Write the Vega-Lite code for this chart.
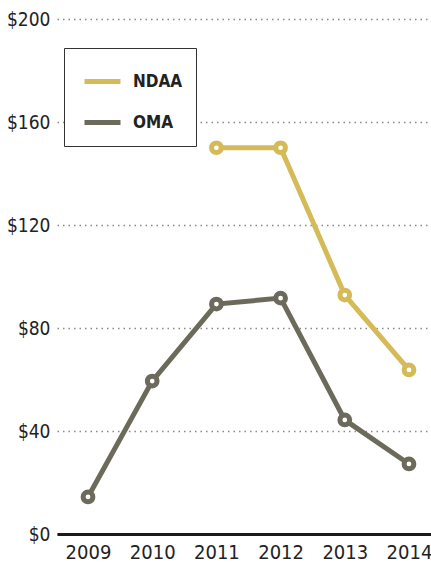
{
  "$schema": "https://vega.github.io/schema/vega-lite/v6.json",
  "width": 374,
  "height": 515,
  "autosize": {"type": "none"},
  "padding": {"left": 57, "top": 19, "right": 0, "bottom": 30},
  "background": "white",
  "config": {
    "view": {"stroke": null},
    "font": "'Liberation Sans Narrow', 'DejaVu Sans Condensed', 'Liberation Sans', sans-serif"
  },
  "data": {
    "values": [
      {"year": 2009, "series": "OMA", "value": 14.4},
      {"year": 2010, "series": "OMA", "value": 59.4},
      {"year": 2011, "series": "OMA", "value": 89.3},
      {"year": 2012, "series": "OMA", "value": 91.6},
      {"year": 2013, "series": "OMA", "value": 44.3},
      {"year": 2014, "series": "OMA", "value": 27.2},
      {"year": 2011, "series": "NDAA", "value": 150},
      {"year": 2012, "series": "NDAA", "value": 150},
      {"year": 2013, "series": "NDAA", "value": 92.8},
      {"year": 2014, "series": "NDAA", "value": 63.7}
    ]
  },
  "encoding": {
    "x": {
      "field": "year",
      "type": "quantitative",
      "scale": {"domain": [2008.517, 2014.343], "nice": false, "zero": false},
      "axis": {
        "values": [2009, 2010, 2011, 2012, 2013, 2014],
        "format": "d",
        "title": null,
        "grid": false,
        "ticks": false,
        "domainColor": "#1a1a1a",
        "domainWidth": 3,
        "labelFontSize": 20,
        "labelColor": "#222222",
        "labelPadding": 8,
        "labelFlush": false
      }
    },
    "y": {
      "field": "value",
      "type": "quantitative",
      "scale": {"domain": [0, 200], "nice": false},
      "axis": {
        "values": [0, 40, 80, 120, 160, 200],
        "labelExpr": "'$' + datum.value",
        "title": null,
        "domain": false,
        "ticks": false,
        "grid": true,
        "gridColor": "#888888",
        "gridDash": [1.5, 4],
        "gridWidth": 1.5,
        "labelFontSize": 19,
        "labelColor": "#222222",
        "labelPadding": 7
      }
    },
    "color": {
      "field": "series",
      "type": "nominal",
      "scale": {"domain": ["NDAA", "OMA"], "range": ["#d5bb58", "#6c6b5b"]},
      "legend": {
        "orient": "none",
        "legendX": 7,
        "legendY": 29,
        "title": null,
        "symbolType": "stroke",
        "symbolSize": 1296,
        "symbolStrokeWidth": 5,
        "symbolOffset": 5,
        "labelFontSize": 17,
        "labelFontWeight": "bold",
        "labelColor": "#222222",
        "labelOffset": 10,
        "strokeColor": "#333333",
        "padding": 13,
        "rowPadding": 10,
        "fillColor": "white"
      }
    }
  },
  "layer": [
    {"mark": {"type": "line", "strokeWidth": 5}},
    {"mark": {"type": "point", "shape": "circle", "filled": false, "fill": "white", "fillOpacity": 1, "size": 95, "strokeWidth": 5, "opacity": 1}}
  ]
}
